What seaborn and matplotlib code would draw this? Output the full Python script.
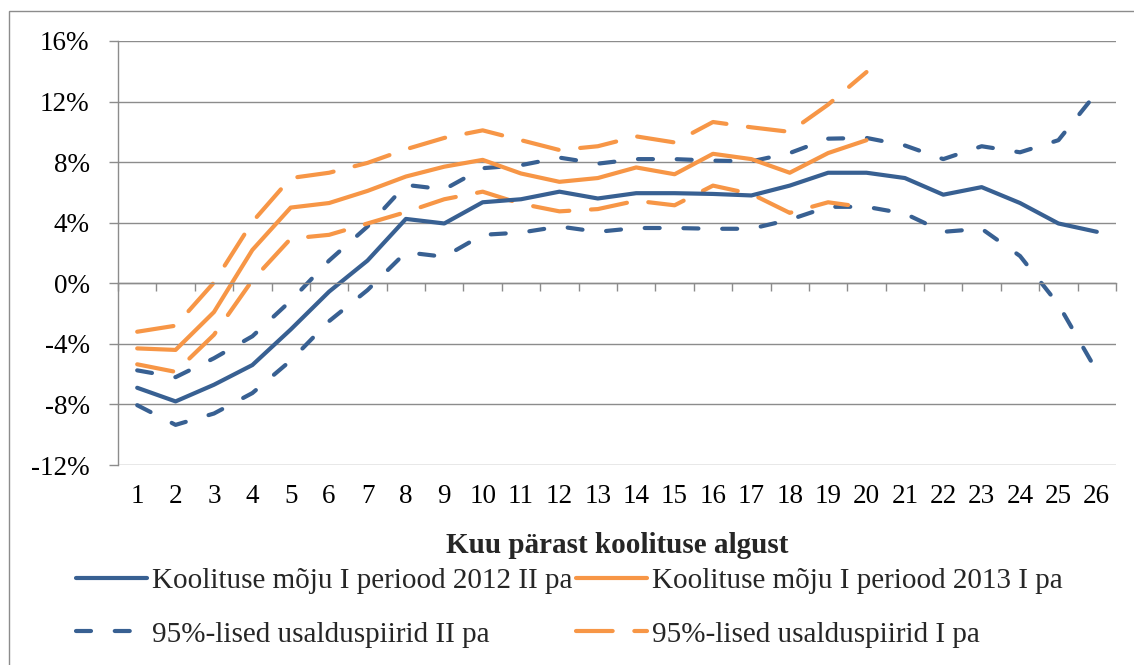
import matplotlib
matplotlib.use("Agg")
import matplotlib.pyplot as plt
import matplotlib.patches as patches
from matplotlib.ticker import FixedLocator, FuncFormatter
from matplotlib.lines import Line2D
import numpy as np
import seaborn as sns

sns.set_theme(style="white")
plt.rcParams['font.family'] = ['Liberation Serif', 'DejaVu Serif']
plt.rcParams['axes.unicode_minus'] = False

# months after training start
months = list(range(1, 27))
months_2013 = list(range(1, 21))

# training effect, period I, 2012 II half-year (percent)
est_2012 = [-6.9, -7.8, -6.7, -5.4, -3.05, -0.55, 1.5, 4.25, 3.95, 5.35, 5.55, 6.05, 5.6,
            5.95, 5.95, 5.9, 5.8, 6.45, 7.3, 7.3, 6.95, 5.85, 6.35, 5.3, 3.95, 3.4]
hi_2012 = [-5.75, -6.2, -4.95, -3.5, -1.15, 1.5, 3.75, 6.5, 6.2, 7.6, 7.8, 8.3, 7.9,
           8.2, 8.2, 8.1, 8.05, 8.6, 9.55, 9.6, 9.1, 8.2, 9.05, 8.65, 9.45, 12.6]
lo_2012 = [-8.05, -9.35, -8.6, -7.25, -5.1, -2.5, -0.45, 2.05, 1.75, 3.2, 3.35, 3.75, 3.4,
           3.65, 3.65, 3.6, 3.6, 4.2, 5.05, 5.05, 4.6, 3.4, 3.6, 1.8, -1.4, -5.8]

# training effect, period I, 2013 I half-year (percent)
est_2013 = [-4.3, -4.4, -1.9, 2.2, 5.0, 5.3, 6.1, 7.05, 7.7, 8.15, 7.25, 6.7, 6.95,
            7.65, 7.2, 8.55, 8.2, 7.3, 8.6, 9.45]
hi_2013 = [-3.2, -2.8, 0.05, 4.05, 6.95, 7.3, 7.95, 8.85, 9.6, 10.1, 9.45, 8.8, 9.05,
           9.7, 9.3, 10.65, 10.3, 10.0, 11.8, 13.95]
lo_2013 = [-5.35, -5.85, -3.4, 0.2, 2.95, 3.2, 3.95, 4.7, 5.55, 6.05, 5.25, 4.75, 4.9,
           5.45, 5.15, 6.45, 5.9, 4.65, 5.35, 5.0]

labels = ["Koolituse mõju I periood 2012 II pa",
          "95%-lised usalduspiirid II pa",
          "Koolituse mõju I periood 2013 I pa",
          "95%-lised usalduspiirid I pa"]
y_ticks = [-12, -8, -4, 0, 4, 8, 12, 16]

BLUE = "#386092"
ORANGE = "#F79646"
GRID = "#8C8C8C"
LW = 3.0
short_dash = (0, (3.6, 5.7))
long_dash = (0, (8.8, 5.2))

fig = plt.figure(figsize=(11.34, 6.65), dpi=100)
ax = fig.add_axes([118 / 1134, 1 - 465 / 665, (1116 - 118) / 1134, (465 - 41) / 665])

common = dict(ax=ax, lw=LW, solid_capstyle="round", dash_capstyle="round")
sns.lineplot(x=months, y=hi_2012, color=BLUE, linestyle=short_dash, **common)
sns.lineplot(x=months, y=lo_2012, color=BLUE, linestyle=short_dash, **common)
sns.lineplot(x=months_2013, y=hi_2013, color=ORANGE, linestyle=long_dash, **common)
sns.lineplot(x=months_2013, y=lo_2013, color=ORANGE, linestyle=long_dash, **common)
sns.lineplot(x=months, y=est_2012, color=BLUE, **common)
sns.lineplot(x=months_2013, y=est_2013, color=ORANGE, **common)

ax.set_xlim(0.5, 26.5)
ax.set_ylim(-12, 16)
ax.yaxis.set_major_locator(FixedLocator(y_ticks))
ax.yaxis.set_major_formatter(FuncFormatter(lambda v, p: f"{v:.0f}%"))
ax.set_xticks(months)
ax.set_xticklabels([str(m) for m in months])
ax.xaxis.set_minor_locator(FixedLocator(np.arange(0.5, 27, 1.0)))

ax.grid(axis="y", color=GRID, lw=1.0)
ax.set_axisbelow(True)
for s in ["right", "bottom"]:
    ax.spines[s].set_visible(False)
ax.spines["left"].set_color(GRID)
ax.spines["left"].set_linewidth(1.0)
# category axis crosses at zero
ax.spines["top"].set_position(("data", 0))
ax.spines["top"].set_color(GRID)
ax.spines["top"].set_linewidth(1.0)

ax.tick_params(axis="x", which="major", bottom=True, top=False, length=0, pad=14,
               labelsize=19.5, colors="black")
ax.tick_params(axis="x", which="minor", bottom=False, top=True, direction="in",
               length=6, width=1.0, color=GRID)
ax.tick_params(axis="y", which="major", left=True, length=6.5, width=1.0, color=GRID,
               pad=14, labelsize=19.5, labelcolor="black")

ax.set_xlabel("Kuu pärast koolituse algust", fontsize=21, fontweight="bold", labelpad=16)
ax.set_ylabel("")

handles = [
    Line2D([], [], color=BLUE, lw=LW, solid_capstyle="round"),
    Line2D([], [], color=BLUE, lw=LW, linestyle=short_dash, dash_capstyle="round"),
    Line2D([], [], color=ORANGE, lw=LW, solid_capstyle="round"),
    Line2D([], [], color=ORANGE, lw=LW, linestyle=long_dash, dash_capstyle="round"),
]
fig.legend(handles, labels, ncol=2, loc="upper left", bbox_to_anchor=(76 / 1134, 1 - 568 / 665),
           frameon=False, fontsize=21, handlelength=2.45, handletextpad=0.17,
           columnspacing=0.1, labelspacing=0.92, borderaxespad=0, borderpad=0)

border = patches.Rectangle((9 / 1134, -0.05), 1.2, 1.05 - 11 / 665, transform=fig.transFigure,
                           fill=False, edgecolor=GRID, lw=1.0)
fig.patches.append(border)

fig.savefig("out.png", dpi=100)
